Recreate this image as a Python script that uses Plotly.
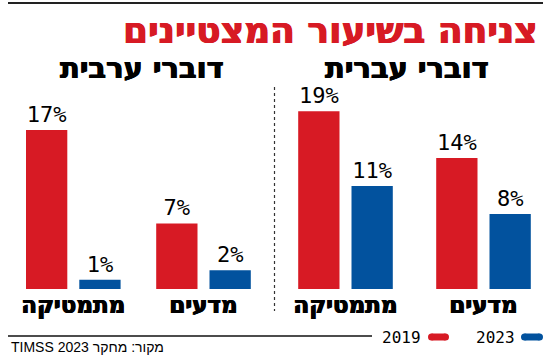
import plotly.graph_objects as go

# ---- data ----
categories = ["מתמטיקה", "מדעים"]
hebrew_2019 = [19, 14]
hebrew_2023 = [11, 8]
arabic_2019 = [17, 7]
arabic_2023 = [1, 2]
years = ["2019", "2023"]
panel_titles = ["דוברי ערבית", "דוברי עברית"]
title_text = "צניחה בשיעור המצטיינים"
source_text = "TIMSS 2023 מקור: מחקר"  # logical order giving correct visual order in LTR context

RED = "#d71a24"
BLUE = "#02529e"
W, H = 550, 360
HEB = "DejaVu Sans"
SRC = "Liberation Sans"
MONO = "DejaVu Sans Mono"


def px_x(x):
    return x / W


def px_y(y):
    return 1 - y / H


def heavy(color):
    return f"0.6px 0 0 {color}, -0.6px 0 0 {color}"


fig = go.Figure()

left_ppu = 130.2
right_ppu = 138.0
bar_w = 41.3
inner_gap = 12.0


def add_pair(vals19, vals23, xaxis, ppu):
    common = dict(
        texttemplate="%{y}%",
        textposition="outside",
        constraintext="none",
        cliponaxis=False,
        textfont=dict(family=MONO, size=22, color="black"),
        showlegend=False,
        hoverinfo="skip",
        marker_line_width=0,
        xaxis=xaxis,
        yaxis="y",
    )
    fig.add_trace(go.Bar(x=categories, y=vals19, name=years[0], marker_color=RED,
                         width=bar_w / ppu, offset=-(bar_w + inner_gap / 2) / ppu, **common))
    fig.add_trace(go.Bar(x=categories, y=vals23, name=years[1], marker_color=BLUE,
                         width=bar_w / ppu, offset=(inner_gap / 2) / ppu, **common))


add_pair(arabic_2019, arabic_2023, "x", left_ppu)
add_pair(hebrew_2019, hebrew_2023, "x2", right_ppu)

left_c0 = 73.3
right_c0 = 345.5
axis_common = dict(
    type="category",
    showgrid=False,
    zeroline=False,
    showline=False,
    ticks="",
    tickfont=dict(family=HEB, size=23, color="black", weight="bold", shadow=heavy("black")),
    fixedrange=True,
    anchor="y",
)
fig.update_layout(
    xaxis=dict(domain=[0, 0.5], range=[(0 - left_c0) / left_ppu, (275 - left_c0) / left_ppu], **axis_common),
    xaxis2=dict(domain=[0.5, 1], range=[(275 - right_c0) / right_ppu, (550 - right_c0) / right_ppu], **axis_common),
    yaxis=dict(domain=[px_y(289), px_y(80)], range=[0, 209 / 9.36], visible=False, fixedrange=True),
)

shapes = []
shapes.append(dict(type="line", xref="paper", yref="paper", x0=px_x(8), x1=px_x(543), y0=px_y(3), y1=px_y(3),
                   line=dict(color="#222", width=2)))
shapes.append(dict(type="line", xref="paper", yref="paper", x0=px_x(8), x1=px_x(372), y0=px_y(336), y1=px_y(336),
                   line=dict(color="#111", width=1.5)))
shapes.append(dict(type="line", xref="paper", yref="paper", x0=px_x(274.5), x1=px_x(274.5), y0=px_y(87), y1=px_y(311),
                   line=dict(color="#333", width=1.2, dash="dot")))


def pill(x0, x1, yc, h, color):
    r = h / 2
    out = [dict(type="rect", xref="paper", yref="paper", x0=px_x(x0 + r), x1=px_x(x1 - r),
                y0=px_y(yc + r), y1=px_y(yc - r), fillcolor=color, line_width=0)]
    for cx in (x0 + r, x1 - r):
        out.append(dict(type="circle", xref="paper", yref="paper", x0=px_x(cx - r), x1=px_x(cx + r),
                        y0=px_y(yc + r), y1=px_y(yc - r), fillcolor=color, line_width=0))
    return out


shapes += pill(428, 449, 337, 7, RED)
shapes += pill(521, 543, 337, 7, BLUE)

annotations = [
    dict(text=title_text, x=px_x(540), y=px_y(30), xref="paper", yref="paper", xanchor="right", yanchor="middle",
         showarrow=False, font=dict(family=HEB, size=36, color=RED, weight="bold", shadow=heavy(RED))),
    dict(text=panel_titles[0], x=px_x(142), y=px_y(68), xref="paper", yref="paper", xanchor="center",
         yanchor="middle", showarrow=False,
         font=dict(family=HEB, size=29, color="black", weight="bold", shadow=heavy("black"))),
    dict(text=panel_titles[1], x=px_x(407), y=px_y(68), xref="paper", yref="paper", xanchor="center",
         yanchor="middle", showarrow=False,
         font=dict(family=HEB, size=29, color="black", weight="bold", shadow=heavy("black"))),
    dict(text=years[0], x=px_x(423), y=px_y(337), xref="paper", yref="paper", xanchor="right", yanchor="middle",
         showarrow=False, font=dict(family=MONO, size=16, color="black")),
    dict(text=years[1], x=px_x(517), y=px_y(337), xref="paper", yref="paper", xanchor="right", yanchor="middle",
         showarrow=False, font=dict(family=MONO, size=16, color="black")),
    dict(text=source_text, x=px_x(9), y=px_y(347), xref="paper", yref="paper", xanchor="left", yanchor="middle",
         showarrow=False, font=dict(family=SRC, size=14, color="black")),
]

fig.update_layout(
    width=W, height=H,
    margin=dict(l=0, r=0, t=0, b=0, pad=0),
    paper_bgcolor="white", plot_bgcolor="white",
    barmode="overlay",
    shapes=shapes,
    annotations=annotations,
    showlegend=False,
)

fig.write_html("out.html", config={"displayModeBar": False},
               post_script="document.body.style.margin='0';document.body.style.padding='0';")
